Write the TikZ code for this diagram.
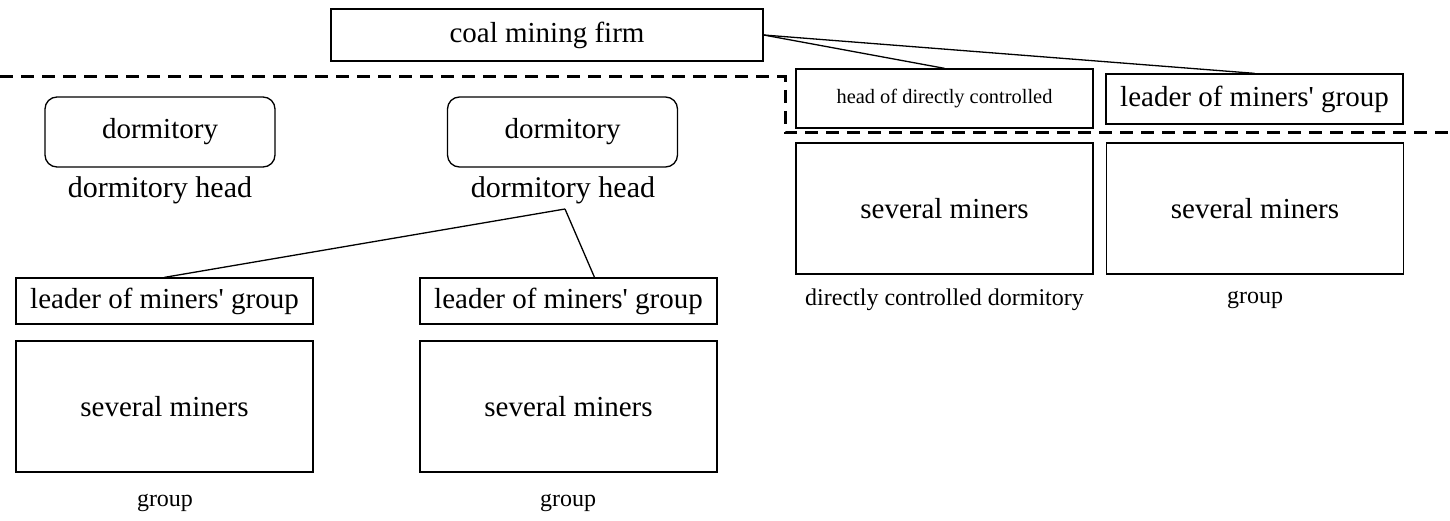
\documentclass[tikz,border=0pt]{standalone}
\usepackage{fontspec}
\setmainfont{Liberation Serif}
\usetikzlibrary{positioning}
\newcommand{\mq}{\textquotesingle}
\tikzset{
  %% nodes
  box/.style      = {draw=black, line width=1.3pt, inner sep=0pt,
                     minimum width=297pt, align=center,
                     font=\fontsize{29}{33}\selectfont},
  dorm/.style     = {box, rounded corners=12pt, minimum width=230pt,
                     minimum height=70pt},
  crew/.style     = {box, minimum height=131pt},
  lbl/.style      = {inner sep=0pt, font=\fontsize{24}{28}\selectfont},
  headlbl/.style  = {inner sep=0pt, font=\fontsize{30}{34}\selectfont},
  %% lines
  tie/.style      = {draw=black, line width=1.3pt},
  border/.style   = {draw=black, line width=3pt, dash pattern=on 13pt off 8pt},
}

\begin{document}
\begin{tikzpicture}[x=1pt, y=-1pt]
\useasboundingbox (0,0) rectangle (1450,521);

%% ---- firm and the dashed border ----
\node[box, minimum width=432pt, minimum height=52pt] (firm) at (547,35) {coal mining firm};
\draw[border] (0,77) -- (785,77) -- (785,133) -- (1450,133);

%% ---- directly controlled side (right) ----
\node[box, minimum height=59pt, font=\fontsize{20.4}{24}\selectfont] (headdc) at (944.5,98.5)
   {head of directly controlled};
\node[box, minimum height=50pt] (leadtop) at (1254.5,99) {leader of miners\mq{} group};
\draw[tie] (firm.east) -- (headdc.north);
\draw[tie] (firm.east) -- (leadtop.north);

\node[crew] (minersdc)  at (944.5,208.5) {several miners};
\node[crew] (minerstop) at (1255,208.5)  {several miners};
\node[lbl] (labdc)  at (944.5,300) {directly controlled dormitory};
\node[lbl] (labtop) at (1255,300)  {group};

%% ---- dormitories (left) ----
\node[dorm] (dorma) at (160,132)   {dormitory};
\node[dorm] (dormb) at (562.5,132) {dormitory};
\node[headlbl] (heada) at (160,190) {dormitory head};
\node[headlbl] (headb) at (563,190) {dormitory head};

\node[box, minimum height=46pt] (leada) at (164.5,301) {leader of miners\mq{} group};
\node[box, minimum height=46pt] (leadb) at (568.5,301) {leader of miners\mq{} group};
\coordinate (hub) at (565,209);
\draw[tie] (hub) -- (leada.north);
\draw[tie] (hub) -- ([xshift=26pt]leadb.north);

\node[crew] (minersa) at (164.5,406.5) {several miners};
\node[crew] (minersb) at (568.5,406.5) {several miners};
\node[lbl] (groupa) at (165,503) {group};
\node[lbl] (groupb) at (568,503) {group};
\end{tikzpicture}
\end{document}
